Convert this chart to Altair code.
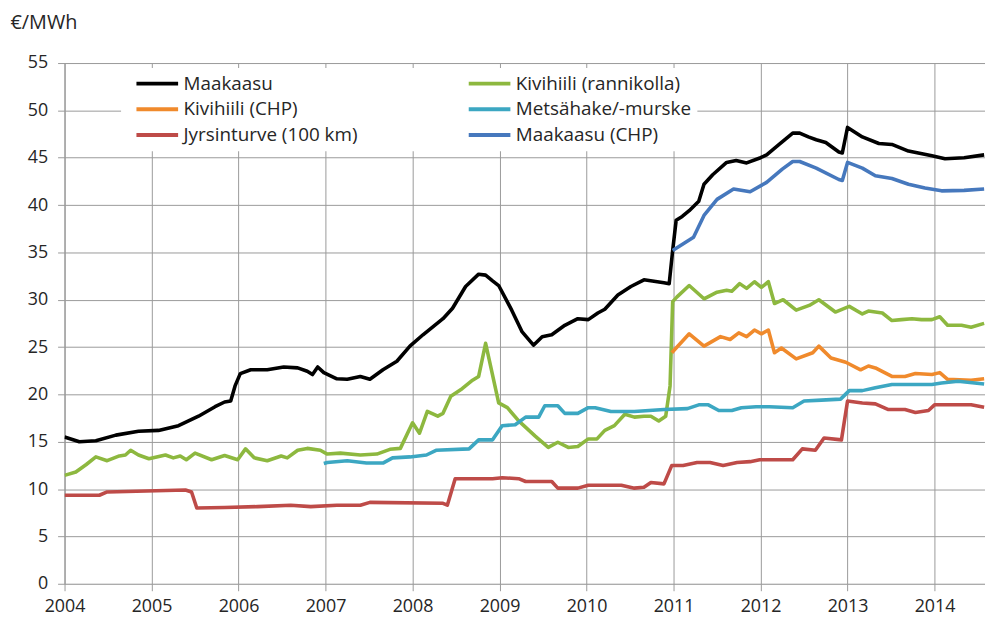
import altair as alt
import pandas as pd

# (decimal year, €/MWh)
maakaasu = [(2004.00, 15.5), (2004.17, 15.0), (2004.36, 15.1), (2004.59, 15.7), (2004.85, 16.1),
            (2005.08, 16.2), (2005.31, 16.7), (2005.54, 17.7), (2005.73, 18.7), (2005.84, 19.2),
            (2005.91, 19.3), (2005.96, 20.9), (2006.02, 22.2), (2006.14, 22.6), (2006.33, 22.6),
            (2006.52, 22.9), (2006.68, 22.8), (2006.79, 22.45), (2006.85, 22.1), (2006.91, 22.9),
            (2006.98, 22.3), (2007.13, 21.65), (2007.25, 21.6), (2007.40, 21.9), (2007.51, 21.6),
            (2007.66, 22.6), (2007.82, 23.5), (2007.97, 25.1), (2008.12, 26.3), (2008.35, 28.0),
            (2008.46, 29.1), (2008.61, 31.4), (2008.76, 32.7), (2008.84, 32.6), (2008.92, 32.0),
            (2008.99, 31.5), (2009.14, 28.9), (2009.26, 26.6), (2009.39, 25.2), (2009.49, 26.1),
            (2009.60, 26.3), (2009.75, 27.3), (2009.90, 28.0), (2010.02, 27.9), (2010.13, 28.6),
            (2010.21, 29.0), (2010.36, 30.5), (2010.51, 31.4), (2010.66, 32.1), (2010.89, 31.8),
            (2010.95, 31.7), (2010.99, 35.2), (2011.03, 38.4), (2011.10, 38.8), (2011.18, 39.4),
            (2011.29, 40.4), (2011.35, 42.2), (2011.45, 43.2), (2011.61, 44.5), (2011.72, 44.7),
            (2011.84, 44.45), (2012.00, 45.0), (2012.07, 45.3), (2012.20, 46.3), (2012.37, 47.6),
            (2012.45, 47.6), (2012.55, 47.2), (2012.64, 46.9), (2012.75, 46.6), (2012.90, 45.6),
            (2012.94, 45.5), (2013.00, 48.2), (2013.17, 47.2), (2013.36, 46.5), (2013.51, 46.4),
            (2013.70, 45.7), (2013.97, 45.2), (2014.12, 44.9), (2014.34, 45.0), (2014.57, 45.3)]

maakaasu_chp = [(2010.99, 35.2), (2011.23, 36.6), (2011.35, 38.9), (2011.50, 40.6), (2011.69, 41.7),
                (2011.88, 41.4), (2012.07, 42.4), (2012.25, 43.8), (2012.37, 44.6), (2012.45, 44.6),
                (2012.64, 43.9), (2012.90, 42.7), (2012.94, 42.6), (2013.00, 44.5), (2013.17, 43.9),
                (2013.32, 43.1), (2013.51, 42.8), (2013.70, 42.2), (2013.89, 41.8), (2014.08, 41.5),
                (2014.34, 41.55), (2014.57, 41.7)]

kivihiili_rannikolla = [(2004.00, 11.45), (2004.13, 11.8), (2004.25, 12.6), (2004.36, 13.4), (2004.49, 13.0),
                        (2004.63, 13.5), (2004.70, 13.6), (2004.76, 14.1), (2004.85, 13.6), (2004.97, 13.2),
                        (2005.16, 13.6), (2005.25, 13.3), (2005.33, 13.5), (2005.40, 13.1), (2005.50, 13.8),
                        (2005.69, 13.1), (2005.84, 13.55), (2005.99, 13.1), (2006.08, 14.25), (2006.18, 13.3),
                        (2006.33, 13.0), (2006.49, 13.5), (2006.56, 13.3), (2006.68, 14.1), (2006.79, 14.3),
                        (2006.94, 14.1), (2007.02, 13.7), (2007.17, 13.8), (2007.40, 13.6), (2007.59, 13.7),
                        (2007.74, 14.2), (2007.86, 14.3), (2008.00, 17.0), (2008.08, 15.9), (2008.17, 18.2),
                        (2008.29, 17.7), (2008.35, 18.0), (2008.44, 19.8), (2008.57, 20.6), (2008.69, 21.5),
                        (2008.76, 21.9), (2008.84, 25.4), (2008.99, 19.1), (2009.09, 18.6), (2009.22, 17.2),
                        (2009.41, 15.6), (2009.56, 14.4), (2009.67, 14.95), (2009.79, 14.4), (2009.90, 14.5),
                        (2010.02, 15.3), (2010.12, 15.3), (2010.21, 16.2), (2010.32, 16.7), (2010.44, 17.9),
                        (2010.55, 17.6), (2010.66, 17.7), (2010.74, 17.7), (2010.83, 17.2), (2010.91, 17.7),
                        (2010.96, 20.9), (2010.99, 29.8), (2011.04, 30.3), (2011.18, 31.5), (2011.35, 30.1),
                        (2011.50, 30.8), (2011.61, 31.0), (2011.67, 30.9), (2011.76, 31.7), (2011.84, 31.2),
                        (2011.93, 31.9), (2012.01, 31.3), (2012.09, 31.9), (2012.16, 29.6), (2012.26, 30.0),
                        (2012.41, 28.9), (2012.56, 29.4), (2012.67, 30.0), (2012.86, 28.7), (2013.02, 29.3),
                        (2013.17, 28.5), (2013.24, 28.8), (2013.40, 28.6), (2013.51, 27.8), (2013.62, 27.9),
                        (2013.74, 28.0), (2013.85, 27.9), (2013.97, 27.9), (2014.06, 28.2), (2014.15, 27.3),
                        (2014.31, 27.3), (2014.42, 27.1), (2014.57, 27.5)]

kivihiili_chp = [(2010.98, 24.4), (2011.18, 26.4), (2011.35, 25.1), (2011.54, 26.1), (2011.65, 25.8),
                 (2011.75, 26.5), (2011.84, 26.1), (2011.93, 26.8), (2012.01, 26.4), (2012.09, 26.8),
                 (2012.16, 24.4), (2012.24, 24.9), (2012.41, 23.75), (2012.60, 24.4), (2012.67, 25.1),
                 (2012.81, 23.85), (2012.98, 23.4), (2013.15, 22.6), (2013.24, 23.0), (2013.32, 22.8),
                 (2013.51, 21.9), (2013.66, 21.9), (2013.78, 22.2), (2013.97, 22.1), (2014.06, 22.3),
                 (2014.15, 21.6), (2014.42, 21.5), (2014.57, 21.65)]

metsahake = [(2006.98, 12.7), (2007.02, 12.8), (2007.25, 13.0), (2007.47, 12.75), (2007.66, 12.75),
             (2007.77, 13.3), (2007.97, 13.4), (2008.16, 13.6), (2008.27, 14.1), (2008.65, 14.25),
             (2008.76, 15.2), (2008.92, 15.2), (2009.03, 16.7), (2009.18, 16.8), (2009.30, 17.6),
             (2009.45, 17.6), (2009.52, 18.8), (2009.67, 18.8), (2009.75, 18.0), (2009.90, 18.0),
             (2010.02, 18.6), (2010.10, 18.6), (2010.28, 18.2), (2010.55, 18.2), (2010.89, 18.4),
             (2011.16, 18.5), (2011.29, 18.9), (2011.40, 18.9), (2011.52, 18.3), (2011.67, 18.3),
             (2011.78, 18.6), (2011.95, 18.7), (2012.10, 18.7), (2012.37, 18.6), (2012.50, 19.3),
             (2012.70, 19.4), (2012.92, 19.5), (2013.02, 20.4), (2013.17, 20.4), (2013.32, 20.7),
             (2013.51, 21.05), (2013.97, 21.05), (2014.08, 21.2), (2014.27, 21.4), (2014.57, 21.1)]

jyrsinturve = [(2004.00, 9.35), (2004.40, 9.35), (2004.49, 9.7), (2005.39, 9.9), (2005.46, 9.7),
               (2005.52, 8.0), (2005.84, 8.05), (2006.22, 8.15), (2006.60, 8.3), (2006.83, 8.15),
               (2007.13, 8.3), (2007.40, 8.3), (2007.51, 8.6), (2008.35, 8.5), (2008.40, 8.3),
               (2008.49, 11.1), (2008.92, 11.1), (2009.03, 11.2), (2009.22, 11.1), (2009.30, 10.8),
               (2009.60, 10.8), (2009.67, 10.1), (2009.90, 10.1), (2010.02, 10.4), (2010.40, 10.4),
               (2010.55, 10.1), (2010.66, 10.2), (2010.74, 10.7), (2010.89, 10.55), (2010.98, 12.5),
               (2011.11, 12.5), (2011.27, 12.8), (2011.42, 12.8), (2011.57, 12.5), (2011.73, 12.8),
               (2011.88, 12.9), (2011.99, 13.1), (2012.37, 13.1), (2012.48, 14.25), (2012.63, 14.1),
               (2012.73, 15.4), (2012.93, 15.2), (2013.00, 19.3), (2013.17, 19.1), (2013.32, 19.0),
               (2013.47, 18.4), (2013.66, 18.4), (2013.78, 18.1), (2013.93, 18.3), (2014.00, 18.9),
               (2014.42, 18.9), (2014.57, 18.65)]

# legend order (row-major, two columns) and colours
series_names = ["Maakaasu", "Kivihiili (rannikolla)", "Kivihiili (CHP)",
                "Metsähake/-murske", "Jyrsinturve (100 km)", "Maakaasu (CHP)"]
series_data = [maakaasu, kivihiili_rannikolla, kivihiili_chp, metsahake, jyrsinturve, maakaasu_chp]
series_colors = ["#000000", "#8db83f", "#f08a2c", "#3ca7c2", "#be4b48", "#4678bd"]
draw_order = [5, 1, 2, 3, 4, 6]

year_ticks = list(range(2004, 2015))
value_ticks = list(range(0, 56, 5))

rows = []
for name, pts, order in zip(series_names, series_data, draw_order):
    for t, v in pts:
        rows.append({"sarja": name, "vuosi": t, "arvo": v, "ord": order})
df = pd.DataFrame(rows)

FONT = "Open Sans"
GRID = "#9a9a9a"
TXT = "#262626"

chart = alt.Chart(df).mark_line(strokeWidth=3.6, strokeJoin="round", clip=True).encode(
    x=alt.X("vuosi:Q",
            scale=alt.Scale(domain=[2004, 2014.58], nice=False, zero=False),
            axis=alt.Axis(values=year_ticks, format="d", title=None, grid=True,
                          gridColor=GRID, gridWidth=1, domain=False, labelFlush=False,
                          tickColor=GRID, tickSize=7, labelPadding=7,
                          labelFont=FONT, labelFontSize=18, labelColor=TXT)),
    y=alt.Y("arvo:Q",
            scale=alt.Scale(domain=[0, 55], nice=False),
            axis=alt.Axis(values=value_ticks, title="€/MWh", titleAngle=0,
                          titleX=-55, titleY=-41, titleAlign="left", titleBaseline="middle",
                          titleFont=FONT, titleFontSize=20, titleFontWeight="normal", titleColor=TXT,
                          grid=True, gridColor=GRID, gridWidth=1,
                          domainColor=GRID, tickColor=GRID, tickSize=7, labelPadding=10,
                          labelFont=FONT, labelFontSize=18, labelColor=TXT)),
    color=alt.Color("sarja:N",
                    scale=alt.Scale(domain=series_names, range=series_colors),
                    legend=alt.Legend(title=None, orient="none", legendX=57, legendY=5,
                                      columns=2, direction="horizontal",
                                      symbolType="M0,0H6", symbolSize=196, symbolStrokeWidth=4,
                                      labelFont=FONT, labelFontSize=19, labelColor=TXT,
                                      labelOffset=38, rowPadding=6, columnPadding=102,
                                      fillColor="white", padding=6, labelLimit=400)),
    order=alt.Order("ord:Q"),
    detail="sarja:N",
).properties(
    width=928, height=525,
    autosize=alt.AutoSizeParams(type="none"),
    padding={"left": 57, "top": 53, "right": 0, "bottom": 30},
).configure_view(stroke=None).configure(background="white")

chart.save("out.html", embed_options={"renderer": "svg", "actions": False})
